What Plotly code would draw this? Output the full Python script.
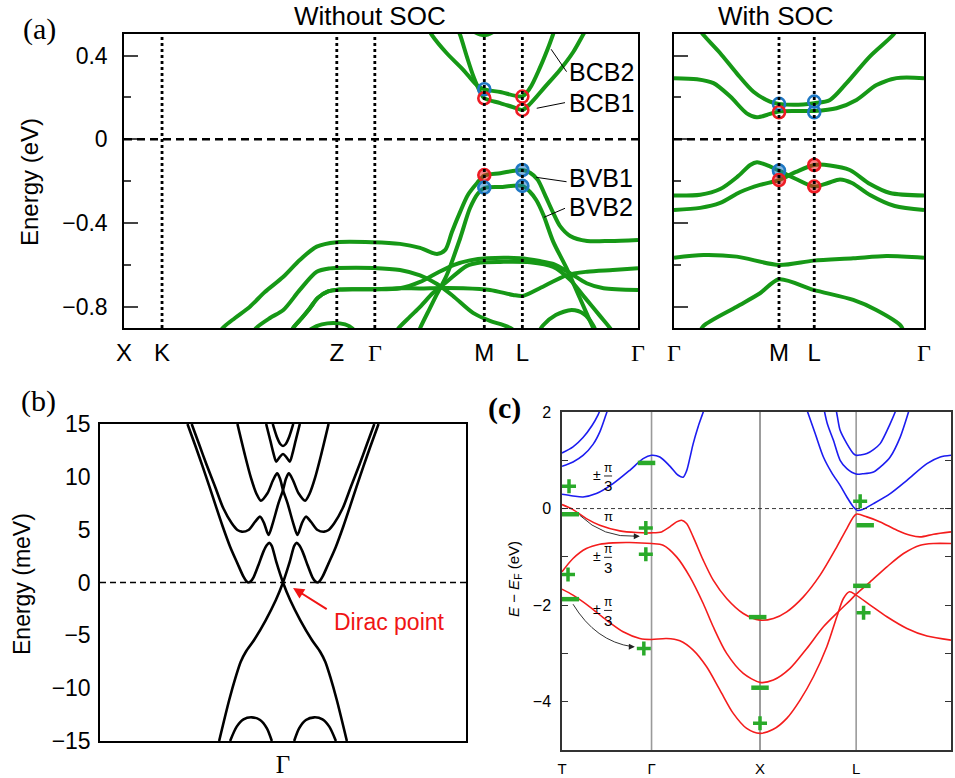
import plotly.graph_objects as go

W, H = 955, 778
GREEN = "#169816"
RED = "#ee1c24"
BLUE = "#1f78c4"
C_BLUE = "#1c1cf0"
C_RED = "#f41c1c"
C_GREEN = "#2aaa2a"
SANS = "Liberation Sans, Arial, sans-serif"
SERIF = "Liberation Serif, Times New Roman, serif"


def px(x):
    return x / W


def py(y):
    return 1 - y / H


def gam(s):
    return f"<span style='font-family:{SERIF}'>{s}</span>" if s == "Γ" else s


# ---------------- (a) path labels ----------------
a_left_ticks = [0.0, 0.074, 0.414, 0.488, 0.701, 0.775, 1.0]
a_left_labels = ["X", "K", "Z", "Γ", "M", "L", "Γ"]
a_left_dotted = [0.074, 0.414, 0.488, 0.701, 0.775]
a_right_ticks = [0.0, 0.420, 0.561, 1.0]
a_right_labels = ["Γ", "M", "L", "Γ"]
a_right_dotted = [0.420, 0.561]

# ---------------- (a) without SOC bands ----------------
nosoc_bvb1_k = [0.185, 0.192, 0.216, 0.245, 0.274, 0.310, 0.342, 0.375, 0.414, 0.484, 0.537, 0.576, 0.609,
                0.625, 0.638, 0.654, 0.669, 0.687, 0.701, 0.732, 0.775, 0.790, 0.805, 0.819, 0.835, 0.848,
                0.868, 0.901, 0.946, 1.0]
nosoc_bvb1_e = [-0.93, -0.902, -0.854, -0.800, -0.730, -0.657, -0.577, -0.513, -0.492, -0.492, -0.500, -0.519,
                -0.548, -0.529, -0.443, -0.347, -0.266, -0.209, -0.173, -0.162, -0.147, -0.160, -0.194, -0.266,
                -0.352, -0.414, -0.462, -0.486, -0.486, -0.481]
nosoc_bvb2_k = [0.572, 0.576, 0.595, 0.608, 0.628, 0.654, 0.673, 0.689, 0.701, 0.732, 0.775, 0.790, 0.802,
                0.816, 0.835, 0.861, 0.887, 0.913, 0.918]
nosoc_bvb2_e = [-0.93, -0.903, -0.808, -0.744, -0.649, -0.473, -0.330, -0.258, -0.233, -0.228, -0.223, -0.252,
                -0.290, -0.362, -0.489, -0.616, -0.760, -0.903, -0.93]
nosoc_v3_k = [0.250, 0.257, 0.284, 0.310, 0.342, 0.375, 0.401, 0.414, 0.485, 0.537, 0.576, 0.609, 0.640,
              0.679, 0.712, 0.737, 0.755, 0.760]
nosoc_v3_e = [-0.93, -0.902, -0.854, -0.816, -0.720, -0.633, -0.617, -0.615, -0.615, -0.625, -0.651, -0.692,
              -0.749, -0.830, -0.868, -0.887, -0.907, -0.93]
nosoc_v4_k = [0.320, 0.329, 0.346, 0.362, 0.377, 0.397, 0.420, 0.484, 0.537, 0.576, 0.608, 0.641, 0.673,
              0.706, 0.770, 0.809, 0.835, 0.868, 0.900, 0.933, 1.0]
nosoc_v4_e = [-0.95, -0.902, -0.854, -0.806, -0.758, -0.727, -0.718, -0.717, -0.712, -0.682, -0.640, -0.601,
              -0.579, -0.569, -0.569, -0.582, -0.596, -0.640, -0.688, -0.712, -0.720]
nosoc_v5_k = [0.320, 0.329, 0.346, 0.362, 0.377, 0.397, 0.420, 0.484, 0.537, 0.576, 0.615, 0.660, 0.712,
              0.757, 0.776, 0.809, 0.862, 0.901, 0.951, 1.0]
nosoc_v5_e = [-0.95, -0.902, -0.854, -0.806, -0.758, -0.727, -0.718, -0.717, -0.712, -0.713, -0.711, -0.712,
              -0.720, -0.744, -0.749, -0.712, -0.649, -0.633, -0.625, -0.617]
nosoc_v6_k = [0.530, 0.533, 0.556, 0.576, 0.601, 0.628, 0.667, 0.693, 0.732, 0.790, 0.835, 0.868, 0.897,
              0.926, 0.947, 0.952]
nosoc_v6_e = [-0.93, -0.907, -0.849, -0.801, -0.735, -0.681, -0.605, -0.589, -0.586, -0.588, -0.610, -0.672,
              -0.758, -0.844, -0.907, -0.93]
nosoc_v7_k = [0.805, 0.815, 0.840, 0.871, 0.895, 0.913, 0.920]
nosoc_v7_e = [-0.93, -0.89, -0.84, -0.816, -0.835, -0.89, -0.93]
nosoc_v8_k = [0.352, 0.365, 0.385, 0.407, 0.430, 0.445, 0.452]
nosoc_v8_e = [-0.93, -0.905, -0.885, -0.878, -0.885, -0.905, -0.93]
nosoc_bcb2_k = [0.591, 0.599, 0.628, 0.660, 0.686, 0.701, 0.732, 0.775, 0.790, 0.809, 0.825, 0.835, 0.839]
nosoc_bcb2_e = [0.532, 0.498, 0.411, 0.332, 0.259, 0.238, 0.226, 0.205, 0.245, 0.341, 0.436, 0.503, 0.532]
nosoc_bcb1_k = [0.648, 0.654, 0.667, 0.680, 0.693, 0.701, 0.732, 0.761, 0.775, 0.790, 0.819, 0.848, 0.874,
                0.894, 0.901]
nosoc_bcb1_e = [0.532, 0.498, 0.395, 0.299, 0.226, 0.196, 0.173, 0.150, 0.140, 0.169, 0.250, 0.331, 0.417,
                0.503, 0.532]
nosoc_c3_k = [0.655, 0.680, 0.701, 0.720, 0.745]
nosoc_c3_e = [0.56, 0.515, 0.497, 0.515, 0.56]

# orbital-character circles (open: conduction, filled: valence)
nosoc_open_k = [0.701, 0.701, 0.775, 0.775]
nosoc_open_e = [0.239, 0.196, 0.204, 0.140]
nosoc_open_c = [BLUE, RED, RED, RED]
nosoc_fill_k = [0.701, 0.701, 0.775, 0.775]
nosoc_fill_e = [-0.171, -0.231, -0.147, -0.223]
nosoc_fill_c = [RED, BLUE, BLUE, BLUE]

# band labels with leader lines
band_names = ["BCB2", "BCB1", "BVB1", "BVB2"]
band_label_e = [0.323, 0.172, -0.187, -0.323]
leader_k0 = [0.861, 0.858, 0.861, 0.858]
leader_e0 = [0.323, 0.175, -0.203, -0.330]
leader_k1 = [0.831, 0.803, 0.802, 0.817]
leader_e1 = [0.430, 0.148, -0.182, -0.373]

# ---------------- (a) with SOC bands ----------------
soc_c1_k = [0.097, 0.118, 0.185, 0.251, 0.318, 0.384, 0.420, 0.517, 0.561, 0.624, 0.690, 0.783, 0.876, 0.895]
soc_c1_e = [0.532, 0.498, 0.411, 0.315, 0.227, 0.180, 0.169, 0.166, 0.172, 0.188, 0.268, 0.395, 0.498, 0.532]
soc_c2_k = [0.0, 0.092, 0.158, 0.225, 0.291, 0.331, 0.371, 0.420, 0.517, 0.561, 0.650, 0.730, 0.810, 0.890, 1.0]
soc_c2_e = [0.292, 0.287, 0.268, 0.204, 0.124, 0.105, 0.116, 0.133, 0.135, 0.135, 0.148, 0.188, 0.259, 0.292,
            0.292]
soc_v1_k = [0.0, 0.105, 0.185, 0.253, 0.305, 0.332, 0.364, 0.420, 0.488, 0.561, 0.616, 0.664, 0.712, 0.784,
            0.883, 1.0]
soc_v1_e = [-0.269, -0.265, -0.238, -0.180, -0.123, -0.110, -0.120, -0.150, -0.190, -0.226, -0.209, -0.192,
            -0.209, -0.266, -0.319, -0.338]
soc_v2_k = [0.0, 0.105, 0.185, 0.265, 0.344, 0.420, 0.488, 0.561, 0.624, 0.703, 0.784, 0.864, 1.0]
soc_v2_e = [-0.338, -0.328, -0.304, -0.252, -0.218, -0.195, -0.156, -0.123, -0.125, -0.147, -0.214, -0.257,
            -0.269]
soc_v3_k = [0.0, 0.118, 0.251, 0.420, 0.558, 0.717, 0.850, 1.0]
soc_v3_e = [-0.566, -0.553, -0.561, -0.601, -0.580, -0.569, -0.558, -0.566]
soc_v4_k = [0.100, 0.118, 0.251, 0.344, 0.420, 0.558, 0.717, 0.809, 0.908, 0.920]
soc_v4_e = [-0.93, -0.892, -0.800, -0.736, -0.669, -0.720, -0.768, -0.816, -0.892, -0.93]

soc_open_k = [0.420, 0.420, 0.561, 0.561]
soc_open_e = [0.169, 0.129, 0.180, 0.129]
soc_open_c = [BLUE, RED, BLUE, BLUE]
soc_fill_k = [0.420, 0.420, 0.561, 0.561]
soc_fill_e = [-0.150, -0.195, -0.123, -0.226]
soc_fill_c = [BLUE, RED, RED, RED]

# ---------------- (b) slab bands near Γ (meV) ----------------
b_a1_k = [-0.522, -0.477, -0.439, -0.402, -0.366, -0.329, -0.289, -0.249, -0.216, -0.200, -0.189, -0.176,
          -0.161, -0.134, -0.107, -0.088, -0.075, -0.062, -0.037, 0.0, 0.039, 0.094, 0.158, 0.203, 0.231,
          0.258, 0.294, 0.349]
b_a1_e = [15.0, 12.85, 10.96, 9.07, 7.18, 5.28, 3.39, 1.81, 0.55, 0.12, 0.0, 0.12, 0.49, 1.66, 2.92, 3.55,
          3.75, 3.50, 1.97, 0.0, -1.66, -3.55, -5.44, -6.55, -7.49, -8.91, -11.12, -15.0]
b_a2_k = [0.522, 0.477, 0.439, 0.402, 0.366, 0.329, 0.289, 0.249, 0.216, 0.200, 0.189, 0.176,
          0.161, 0.134, 0.107, 0.088, 0.075, 0.062, 0.037, 0.0, -0.039, -0.094, -0.158, -0.203, -0.231,
          -0.258, -0.294, -0.349]
b_a2_e = b_a1_e
b_b1_k = [-0.499, -0.457, -0.417, -0.371, -0.326, -0.280, -0.249, -0.225, -0.189, -0.152, -0.125, -0.103,
          -0.079, -0.056, -0.025, 0.0, 0.017, 0.032, 0.054, 0.085, 0.121, 0.145, 0.175, 0.210, 0.249]
b_b1_e = [15.0, 13.01, 11.12, 9.07, 7.02, 5.60, 4.97, 4.81, 4.97, 5.76, 6.23, 5.60, 4.50, 5.60, 7.49, 8.75,
          9.86, 10.33, 9.70, 8.44, 7.74, 8.40, 9.90, 12.20, 15.0]
b_b2_k = [0.499, 0.457, 0.417, 0.371, 0.326, 0.280, 0.249, 0.225, 0.189, 0.152, 0.125, 0.103,
          0.079, 0.056, 0.025, 0.0, -0.017, -0.032, -0.054, -0.085, -0.121, -0.145, -0.175, -0.210, -0.249]
b_b2_e = b_b1_e
b_w_k = [-0.092, -0.070, -0.052, -0.037, -0.019, 0.0, 0.019, 0.037, 0.052, 0.070, 0.092]
b_w_e = [15.0, 13.49, 12.22, 11.44, 11.85, 12.16, 11.85, 11.44, 12.22, 13.49, 15.0]
b_v_k = [-0.056, -0.034, -0.015, 0.0, 0.015, 0.034, 0.056]
b_v_e = [15.0, 13.80, 13.11, 12.92, 13.11, 13.80, 15.0]
b_vl_k = [-0.289, -0.253, -0.216, -0.171, -0.125, -0.088, -0.061]
b_vl_e = [-15.0, -13.64, -12.95, -12.76, -13.01, -13.80, -15.0]
b_vr_k = [0.289, 0.253, 0.216, 0.171, 0.125, 0.088, 0.061]
b_vr_e = b_vl_e

# ---------------- (c) bulk bands (eV) ----------------
c_ticks = [0.0, 0.894, 1.977, 2.937, 3.884]
c_labels = ["T", "Γ", "X", "L", "Γ"]
c_yticks = [-4, -3, -2, -1, 0, 1, 2]
c_ytext = ["−4", "", "−2", "", "0", "", "2"]

cb1_k = [0.0, 0.110, 0.210, 0.343, 0.510, 0.677, 0.810, 0.894, 0.977, 1.077, 1.160, 1.210, 1.244, 1.277, 1.310,
         1.360, 1.410, 1.420]
cb1_e = [0.297, 0.262, 0.241, 0.310, 0.517, 0.793, 1.034, 1.103, 1.068, 0.880, 0.690, 0.650, 0.78, 1.05, 1.345,
         1.70, 2.0, 2.08]
cb2_k = [0.0, 0.110, 0.210, 0.310, 0.380, 0.440, 0.460]
cb2_e = [0.876, 0.966, 1.10, 1.33, 1.60, 1.95, 2.07]
cb3_k = [0.0, 0.110, 0.210, 0.300, 0.360, 0.385]
cb3_e = [1.152, 1.276, 1.47, 1.72, 1.94, 2.07]
cb4_k = [2.444, 2.527, 2.610, 2.694, 2.777, 2.844, 2.910, 2.950, 3.000, 3.110, 3.277, 3.444, 3.644, 3.777, 3.884]
cb4_e = [2.05, 1.56, 1.069, 0.74, 0.48, 0.24, 0.033, -0.04, -0.02, 0.103, 0.31, 0.586, 0.93, 1.068, 1.103]
cb5_k = [2.615, 2.650, 2.710, 2.777, 2.844, 2.937, 3.0, 3.11, 3.20, 3.277, 3.377, 3.46, 3.47]
cb5_e = [2.07, 1.75, 1.414, 1.0, 0.828, 0.715, 0.72, 0.757, 0.90, 1.068, 1.48, 2.0, 2.07]
cb6_k = [2.735, 2.750, 2.777, 2.844, 2.910, 2.937, 2.98, 3.044, 3.11, 3.177, 3.277, 3.327, 3.34]
cb6_e = [2.07, 1.90, 1.62, 1.345, 1.138, 1.103, 1.11, 1.138, 1.22, 1.345, 1.759, 2.0, 2.07]

vb1_k = [0.0, 0.110, 0.243, 0.377, 0.577, 0.743, 0.894, 0.994, 1.077, 1.144, 1.194, 1.244, 1.310, 1.410, 1.510,
         1.644, 1.810, 1.977, 2.110, 2.244, 2.410, 2.577, 2.744, 2.844, 2.937, 3.044, 3.177, 3.344, 3.477, 3.577,
         3.710, 3.884]
vb1_e = [0.083, -0.021, -0.207, -0.345, -0.462, -0.497, -0.503, -0.483, -0.379, -0.276, -0.241, -0.310, -0.586,
         -1.069, -1.483, -1.862, -2.172, -2.31, -2.276, -2.138, -1.828, -1.379, -0.793, -0.414, -0.117, -0.172,
         -0.276, -0.448, -0.552, -0.586, -0.531, -0.483]
vb2_k = [0.0, 0.110, 0.243, 0.377, 0.510, 0.677, 0.894, 1.010, 1.144, 1.277, 1.410, 1.510, 1.644, 1.810, 1.977,
         2.110, 2.277, 2.444, 2.610, 2.777, 2.877, 2.937, 3.077, 3.244, 3.410, 3.577, 3.710, 3.884]
vb2_e = [-1.31, -1.034, -0.828, -0.738, -0.710, -0.703, -0.724, -0.759, -1.0, -1.414, -1.966, -2.448, -3.0,
         -3.414, -3.6, -3.552, -3.31, -2.897, -2.448, -2.10, -1.90, -1.772, -1.517, -1.207, -0.931, -0.759,
         -0.724, -0.724]
vb3_k = [0.0, 0.110, 0.277, 0.443, 0.610, 0.777, 0.894, 1.044, 1.177, 1.310, 1.444, 1.577, 1.710, 1.844, 1.977,
         2.110, 2.244, 2.377, 2.510, 2.644, 2.744, 2.810, 2.870, 2.937, 3.077, 3.244, 3.444, 3.644, 3.884]
vb3_e = [-1.669, -1.793, -2.034, -2.31, -2.552, -2.69, -2.71, -2.69, -2.738, -2.931, -3.276, -3.759, -4.241,
         -4.552, -4.655, -4.572, -4.345, -3.966, -3.483, -2.862, -2.241, -1.862, -1.724, -1.793, -2.0, -2.241,
         -2.483, -2.641, -2.724]

# parity eigenvalue markers
plus_k = [0.070, 0.060, 0.837, 0.837, 0.817, 1.977, 2.977, 3.011]
plus_e = [0.462, -1.366, -0.40, -0.945, -2.897, -4.448, 0.152, -2.159]
minus_k = [0.083, 0.083, 0.844, 1.954, 1.977, 3.027, 2.994]
minus_e = [-0.117, -1.876, 0.945, -2.248, -3.71, -0.345, -1.60]

# phase labels: fraction-bar energies of ±π/3 and the lone π
frac_bar_e = [0.675, -1.01, -2.11]
pi_alone_e = -0.173

fig = go.Figure()


def band(k, e, xa, ya, color, width):
    fig.add_trace(go.Scatter(x=k, y=e, mode="lines", xaxis=xa, yaxis=ya, hoverinfo="skip",
                             line=dict(color=color, width=width, shape="spline", smoothing=0.8)))


for k, e in [(nosoc_bvb1_k, nosoc_bvb1_e), (nosoc_bvb2_k, nosoc_bvb2_e), (nosoc_v3_k, nosoc_v3_e),
             (nosoc_v4_k, nosoc_v4_e), (nosoc_v5_k, nosoc_v5_e), (nosoc_v6_k, nosoc_v6_e),
             (nosoc_v7_k, nosoc_v7_e), (nosoc_v8_k, nosoc_v8_e), (nosoc_bcb2_k, nosoc_bcb2_e),
             (nosoc_bcb1_k, nosoc_bcb1_e), (nosoc_c3_k, nosoc_c3_e)]:
    band(k, e, "x", "y", GREEN, 4)

for k, e in [(soc_c1_k, soc_c1_e), (soc_c2_k, soc_c2_e), (soc_v1_k, soc_v1_e), (soc_v2_k, soc_v2_e),
             (soc_v3_k, soc_v3_e), (soc_v4_k, soc_v4_e)]:
    band(k, e, "x2", "y2", GREEN, 4)


def rgba(hexc, a):
    h = hexc.lstrip("#")
    return f"rgba({int(h[0:2], 16)},{int(h[2:4], 16)},{int(h[4:6], 16)},{a})"


def circles(k, e, cols, xa, ya, filled):
    fill = [rgba(c, 0.55) if filled else "rgba(0,0,0,0)" for c in cols]
    fig.add_trace(go.Scatter(x=k, y=e, mode="markers", xaxis=xa, yaxis=ya, hoverinfo="skip",
                             marker=dict(symbol="circle", size=12, color=fill,
                                         line=dict(color=cols, width=2.6))))


circles(nosoc_open_k, nosoc_open_e, nosoc_open_c, "x", "y", False)
circles(nosoc_fill_k, nosoc_fill_e, nosoc_fill_c, "x", "y", True)
circles(soc_open_k, soc_open_e, soc_open_c, "x2", "y2", False)
circles(soc_fill_k, soc_fill_e, soc_fill_c, "x2", "y2", True)

for k, e in [(b_a1_k, b_a1_e), (b_a2_k, b_a2_e), (b_b1_k, b_b1_e), (b_b2_k, b_b2_e), (b_w_k, b_w_e),
             (b_v_k, b_v_e), (b_vl_k, b_vl_e), (b_vr_k, b_vr_e)]:
    band(k, e, "x3", "y3", "black", 2.6)

for k, e in [(cb1_k, cb1_e), (cb2_k, cb2_e), (cb3_k, cb3_e), (cb4_k, cb4_e), (cb5_k, cb5_e), (cb6_k, cb6_e)]:
    band(k, e, "x4", "y4", C_BLUE, 1.6)
for k, e in [(vb1_k, vb1_e), (vb2_k, vb2_e), (vb3_k, vb3_e)]:
    band(k, e, "x4", "y4", C_RED, 1.6)

fig.add_trace(go.Scatter(x=plus_k, y=plus_e, mode="markers", xaxis="x4", yaxis="y4", hoverinfo="skip",
                         marker=dict(symbol="cross-thin", size=10, line=dict(color=C_GREEN, width=3.5))))
fig.add_trace(go.Scatter(x=minus_k, y=minus_e, mode="markers", xaxis="x4", yaxis="y4", hoverinfo="skip",
                         marker=dict(symbol="line-ew", size=12.5, line=dict(color=C_GREEN, width=4.5))))

shapes = []
for k in a_left_dotted:
    shapes.append(dict(type="line", xref="x", yref="y domain", x0=k, x1=k, y0=0, y1=1,
                       line=dict(color="black", width=2.8, dash="dot")))
for k in a_right_dotted:
    shapes.append(dict(type="line", xref="x2", yref="y2 domain", x0=k, x1=k, y0=0, y1=1,
                       line=dict(color="black", width=2.8, dash="dot")))
for xa, ya in [("x", "y"), ("x2", "y2")]:
    shapes.append(dict(type="line", xref=f"{xa} domain", yref=ya, x0=0, x1=1, y0=0, y1=0,
                       line=dict(color="black", width=2.6, dash="8px,5px")))
for i in range(4):
    shapes.append(dict(type="line", xref="x", yref="y", x0=leader_k0[i], x1=leader_k1[i],
                       y0=leader_e0[i], y1=leader_e1[i], line=dict(color="black", width=1)))
shapes.append(dict(type="line", xref="x3 domain", yref="y3", x0=0, x1=1, y0=0, y1=0,
                   line=dict(color="black", width=1.5, dash="6px,4px")))
for k, col, w in [(c_ticks[1], "#9a9a9a", 1.6), (c_ticks[2], "#3a3a3a", 1.0), (c_ticks[3], "#9a9a9a", 1.6)]:
    shapes.append(dict(type="line", xref="x4", yref="y4 domain", x0=k, x1=k, y0=0, y1=1, layer="below",
                       line=dict(color=col, width=w)))
shapes.append(dict(type="line", xref="x4 domain", yref="y4", x0=0, x1=1, y0=0, y1=0,
                   line=dict(color="#222", width=0.9, dash="4px,3px")))
# curved guide arrows in (c)
shapes.append(dict(type="path", xref="x4", yref="y4", path="M 0.177,-0.138 Q 0.411,-0.61 0.74,-0.572",
                   line=dict(color="#333", width=1)))
shapes.append(dict(type="path", xref="x4", yref="y4", path="M 0.110,-1.98 Q 0.336,-2.75 0.70,-2.86",
                   line=dict(color="#333", width=1)))
for e in frac_bar_e:
    shapes.append(dict(type="line", xref="x4", yref="y4", x0=0.42, x1=0.50, y0=e, y1=e,
                       line=dict(color="#222", width=1)))

ann = []


def txt(text, x, y, size, xref="paper", yref="paper", color="black", family=SANS, angle=0,
        xanchor="center", yanchor="middle"):
    ann.append(dict(text=text, x=x, y=y, xref=xref, yref=yref, showarrow=False, textangle=angle,
                    xanchor=xanchor, yanchor=yanchor, borderpad=0,
                    font=dict(size=size, color=color, family=family)))


txt("(a)", px(39), py(29), 30, family=SERIF)
txt("Without SOC", px(370), py(16), 26)
txt("With SOC", px(776), py(16), 26)
txt("Energy (eV)", px(30), py(182), 24, angle=-90)
for name, e in zip(band_names, band_label_e):
    txt(name, 0.863, e, 25, xref="x", yref="y", xanchor="left")
txt("(b)", px(38), py(401), 30, family=SERIF)
txt("Energy (meV)", px(22), py(584), 23, angle=-90)
txt("Dirac point", 0.58, -3.74, 23, xref="x3", yref="y3", color="#f01414")
ann.append(dict(x=0.055, y=-0.52, ax=0.247, ay=-2.6, xref="x3", yref="y3", axref="x3", ayref="y3",
                text="", showarrow=True, arrowhead=2, arrowsize=1.1, arrowwidth=2, arrowcolor="#f01414"))
txt("<b>(c)</b>", px(505), py(408), 30, family=SERIF)
txt("<i>E</i> − <i>E</i><sub>F</sub> (eV)", px(514), py(579), 15, angle=-90)
# ±π/3 phase labels in (c)
for e in frac_bar_e:
    txt("±", 0.35, e + 0.03, 14, xref="x4", yref="y4")
    txt("π", 0.46, e + 0.01, 12, xref="x4", yref="y4", yanchor="bottom")
    txt("3", 0.46, e - 0.01, 15, xref="x4", yref="y4", yanchor="top")
txt("π", 0.46, pi_alone_e, 13, xref="x4", yref="y4")
for x, y, ax, ay in [(0.777, -0.573, 0.70, -0.571), (0.727, -2.863, 0.66, -2.86)]:
    ann.append(dict(x=x, y=y, ax=ax, ay=ay, xref="x4", yref="y4", axref="x4", ayref="y4", text="",
                    showarrow=True, arrowhead=2, arrowsize=1.2, arrowwidth=1, arrowcolor="#222"))

box = dict(showline=True, linecolor="black", linewidth=1.5, mirror=True, showgrid=False, zeroline=False,
           automargin=False)
cbox = dict(showline=True, linecolor="#333", linewidth=1.5, showgrid=False, zeroline=False, automargin=False)

fig.update_layout(
    width=W, height=H, margin=dict(l=0, r=0, t=0, b=0, autoexpand=False), paper_bgcolor="white",
    plot_bgcolor="white", showlegend=False, font=dict(family=SANS, color="black"),
    xaxis=dict(domain=[px(124), px(638)], range=[0, 1], tickvals=a_left_ticks,
               ticktext=[gam(s) for s in a_left_labels], ticks="", tickfont=dict(size=24),
               ticklabelstandoff=2, **box),
    yaxis=dict(domain=[py(328), py(34)], range=[-0.902, 0.503], tick0=0, dtick=0.4, ticks="inside",
               ticklen=14, tickwidth=1.5, tickfont=dict(size=23), ticklabelstandoff=10,
               minor=dict(dtick=0.2, tick0=0, ticks="inside", ticklen=7, tickwidth=1.5), **box),
    xaxis2=dict(domain=[px(674), px(924)], range=[0, 1], tickvals=a_right_ticks,
                ticktext=[gam(s) for s in a_right_labels], ticks="", tickfont=dict(size=24),
                ticklabelstandoff=2, anchor="y2", **box),
    yaxis2=dict(domain=[py(328), py(34)], range=[-0.902, 0.503], tick0=0, dtick=0.4, ticks="inside",
                ticklen=14, tickwidth=1.5, showticklabels=False, anchor="x2",
                minor=dict(dtick=0.2, tick0=0, ticks="inside", ticklen=7, tickwidth=1.5), **box),
    xaxis3=dict(domain=[px(100), px(466)], range=[-1, 1], tickvals=[0], ticktext=[gam("Γ")], ticks="",
                tickfont=dict(size=25), ticklabelstandoff=0, anchor="y3", **box),
    yaxis3=dict(domain=[py(741), py(424)], range=[-15, 15], dtick=5, ticks="", tickfont=dict(size=23),
                ticklabelstandoff=3, anchor="x3", **box),
    xaxis4=dict(domain=[px(562), px(951)], range=[0, 3.884], tickvals=c_ticks, ticktext=c_labels, ticks="",
                tickfont=dict(size=15), ticklabelstandoff=4, anchor="y4", mirror=True, **cbox),
    yaxis4=dict(domain=[py(750), py(412)], range=[-5, 2], tickvals=c_yticks, ticktext=c_ytext,
                ticks="inside", ticklen=6, tickwidth=1, tickcolor="#333", tickfont=dict(size=16),
                ticklabelstandoff=6, anchor="x4", mirror="allticks", **cbox),
    shapes=shapes, annotations=ann,
)

fig.write_html("out.html")
